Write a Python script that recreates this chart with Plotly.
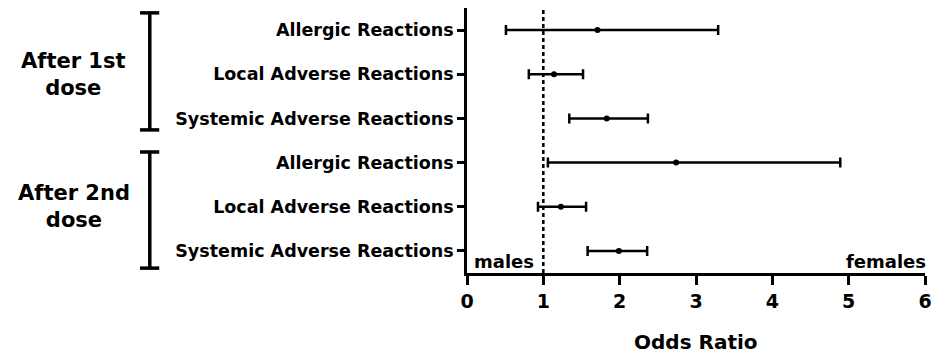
import plotly.graph_objects as go

categories = ["Allergic Reactions", "Local Adverse Reactions", "Systemic Adverse Reactions",
              "Allergic Reactions", "Local Adverse Reactions", "Systemic Adverse Reactions"]
row_pos = [6, 5, 4, 3, 2, 1]
odds_ratio = [1.71, 1.14, 1.83, 2.74, 1.23, 1.99]
ci_low = [0.51, 0.81, 1.34, 1.06, 0.93, 1.58]
ci_high = [3.29, 1.52, 2.37, 4.89, 1.56, 2.36]
x_ticks = [0, 1, 2, 3, 4, 5, 6]
group_labels = ["After 1st<br>dose", "After 2nd<br>dose"]
group_centers = [5, 2]

FONT = "DejaVu Sans"

fig = go.Figure()
fig.add_trace(go.Scatter(
    x=odds_ratio, y=row_pos, mode="markers",
    marker=dict(color="black", size=6),
    error_x=dict(type="data", symmetric=False,
                 array=[h - o for h, o in zip(ci_high, odds_ratio)],
                 arrayminus=[o - l for o, l in zip(odds_ratio, ci_low)],
                 color="black", thickness=2.5, width=5),
    showlegend=False, cliponaxis=False,
))

shapes = [dict(type="line", xref="x", yref="paper", x0=1, x1=1, y0=0, y1=1,
               line=dict(color="black", width=2.5, dash="4px,3px"), layer="below")]
for top, bot in [(6.39, 3.74), (3.24, 0.61)]:
    shapes.append(dict(type="line", xref="paper", yref="y", x0=-0.6926, x1=-0.6926, y0=bot, y1=top,
                       line=dict(color="black", width=3.5)))
    for yy in (top, bot):
        shapes.append(dict(type="line", xref="paper", yref="y", x0=-0.714, x1=-0.672, y0=yy, y1=yy,
                           line=dict(color="black", width=3.5)))

annotations = []
for lab, c in zip(group_labels, group_centers):
    annotations.append(dict(text="<b>" + lab + "</b>", xref="paper", yref="y", x=-0.859, y=c,
                            xanchor="center", yanchor="middle", showarrow=False,
                            font=dict(family=FONT, size=21, color="black")))
annotations.append(dict(text="<b>males</b>", xref="x", yref="y", x=0.07, y=0.75, xanchor="left",
                        yanchor="middle", showarrow=False, font=dict(family=FONT, size=18, color="black")))
annotations.append(dict(text="<b>females</b>", xref="paper", yref="y", x=1.0, xshift=3, y=0.75,
                        xanchor="right", yanchor="middle", showarrow=False,
                        font=dict(family=FONT, size=18, color="black")))
annotations.append(dict(text="<b>Odds Ratio</b>", xref="paper", yref="paper", x=0.5, y=-0.26,
                        xanchor="center", yanchor="middle", showarrow=False,
                        font=dict(family=FONT, size=20, color="black")))

fig.update_layout(
    width=940, height=356,
    margin=dict(l=467, r=11, t=8, b=83),
    paper_bgcolor="white", plot_bgcolor="white",
    shapes=shapes, annotations=annotations,
    xaxis=dict(range=[0, 6], tickvals=x_ticks, ticktext=["<b>%d</b>" % t for t in x_ticks],
               showline=True, linecolor="black", linewidth=2.5, ticks="outside", ticklen=9,
               tickwidth=2.5, tickcolor="black", showgrid=False, zeroline=False,
               tickfont=dict(family=FONT, size=19, color="black")),
    yaxis=dict(range=[0.5, 6.5], tickvals=row_pos, ticktext=["<b>%s</b>" % c for c in categories],
               showline=True, linecolor="black", linewidth=2.5, ticks="outside", ticklen=7,
               tickwidth=2.5, tickcolor="black", showgrid=False, zeroline=False,
               ticklabelstandoff=0,
               tickfont=dict(family=FONT, size=17.5, color="black")),
)

fig.write_html("out.html")
